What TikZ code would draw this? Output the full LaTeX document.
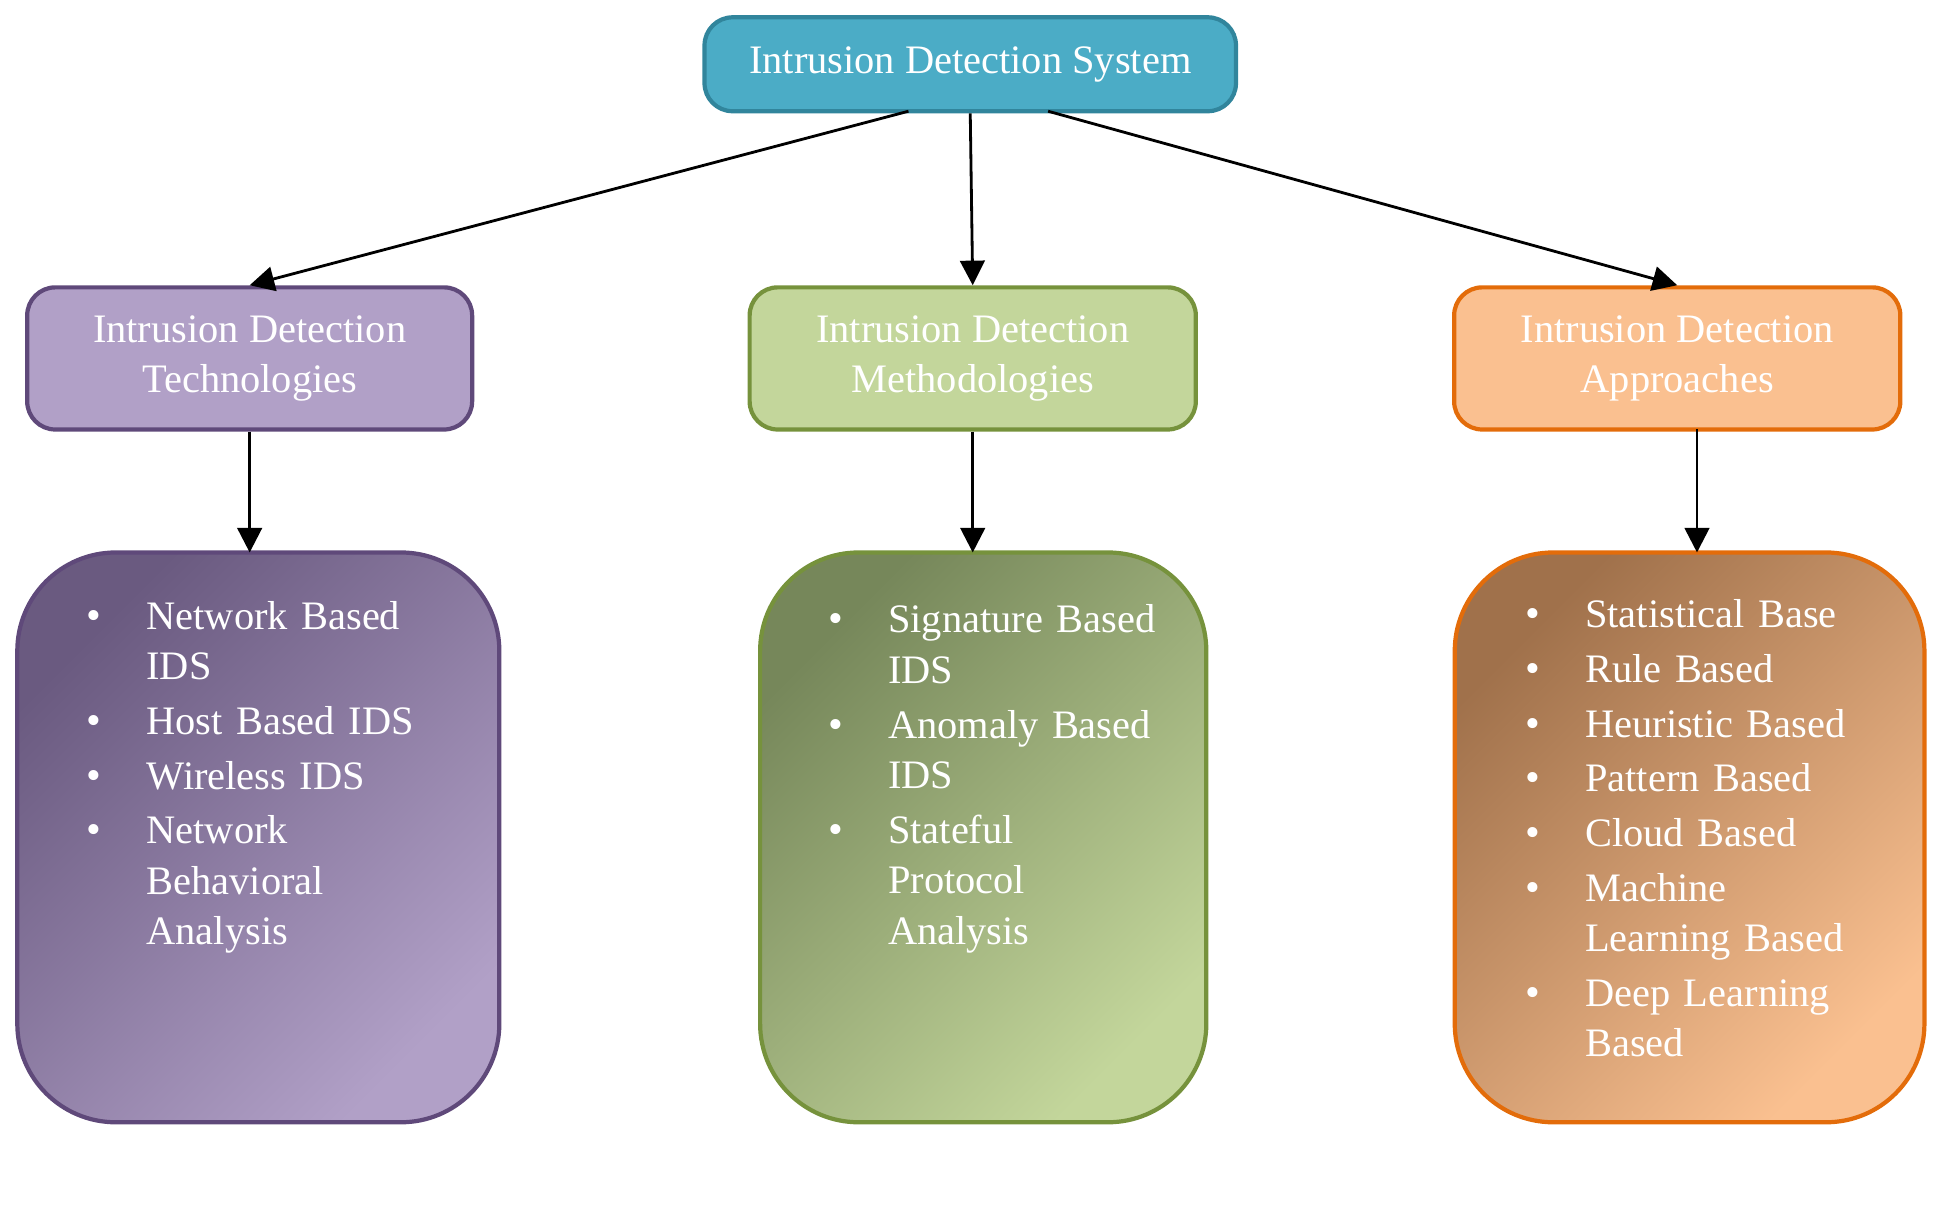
\documentclass[tikz,border=0pt]{standalone}
\usepackage{fontspec}
\setmainfont{Liberation Serif}
\usepackage{enumitem}
\usetikzlibrary{arrows.meta}
\definecolor{topfill}{HTML}{4BACC6}
\definecolor{topline}{HTML}{31859C}
\definecolor{purfill}{HTML}{B1A0C7}
\definecolor{purline}{HTML}{5F497A}
\definecolor{purdark}{HTML}{6A5A80}
\definecolor{grnfill}{HTML}{C3D69B}
\definecolor{grnline}{HTML}{76923C}
\definecolor{grndark}{HTML}{76875A}
\definecolor{orgfill}{HTML}{FAC090}
\definecolor{orgline}{HTML}{E36C0A}
\definecolor{orgdark}{HTML}{A0714B}
\newcommand{\boxfont}{\fontsize{11.5}{14.4}\selectfont}
\newcommand{\itemlist}[1]{\begin{itemize}[leftmargin=0.66cm,labelsep=0.45cm,itemsep=0.04cm,topsep=0pt,parsep=0pt,label={\large\textbullet}]#1\end{itemize}}

\begin{document}
\begin{tikzpicture}[x=0.01236cm,y=-0.01236cm,>={Triangle[length=7pt,width=7pt]},thick,
  box/.style={rectangle,rounded corners=8pt,line width=1.2pt,text=white,font=\boxfont,align=center},
  list box/.style={rounded corners=28pt,line width=1.2pt},
  item text/.style={anchor=north west,text=white,font=\boxfont,text width=3.35cm,inner sep=0pt}]

\useasboundingbox (0,0) rectangle (1568,976);

% top
\node[box,fill=topfill,draw=topline,minimum width=430*0.01236cm,minimum height=76*0.01236cm] (ids) at (785,52) {Intrusion Detection System};

% second level
\node[box,fill=purfill,draw=purline,minimum width=360*0.01236cm,minimum height=115*0.01236cm] (tech) at (202,290) {Intrusion Detection\\Technologies};
\node[box,fill=grnfill,draw=grnline,minimum width=361*0.01236cm,minimum height=115*0.01236cm] (meth) at (787,290) {Intrusion Detection\\Methodologies};
\node[box,fill=orgfill,draw=orgline,minimum width=361*0.01236cm,minimum height=115*0.01236cm] (appr) at (1357,290) {Intrusion Detection\\Approaches};

% third level
\draw[list box,draw=purline,top color=purdark,bottom color=purfill,shading angle=45] (14,447) rectangle (404,908);
\draw[list box,draw=grnline,top color=grndark,bottom color=grnfill,shading angle=45] (615,447) rectangle (976,908);
\draw[list box,draw=orgline,top color=orgdark,bottom color=orgfill,shading angle=45] (1177,447) rectangle (1557,908);
\coordinate (techlist) at (202,447);
\coordinate (methlist) at (787,447);
\coordinate (apprlist) at (1373,447);

\node[item text] (techitems) at (64,467) {\itemlist{\item Network Based IDS \item Host Based IDS \item Wireless IDS \item Network Behavioral Analysis}};
\node[item text] (methitems) at (664,470) {\itemlist{\item Signature Based IDS \item Anomaly Based IDS \item Stateful Protocol Analysis}};
\node[item text] (appritems) at (1228,466) {\itemlist{\item Statistical Base \item Rule Based \item Heuristic Based \item Pattern Based \item Cloud Based \item Machine Learning Based \item Deep Learning Based}};

% arrows
\draw[->] (735,90) -- (tech.north);
\draw[->] (ids.south) -- (meth.north);
\draw[->] (848,90) -- (appr.north);
\draw[->] (tech.south) -- (techlist);
\draw[->] (meth.south) -- (methlist);
\draw[->] (1373,347) -- (apprlist);
\end{tikzpicture}
\end{document}
